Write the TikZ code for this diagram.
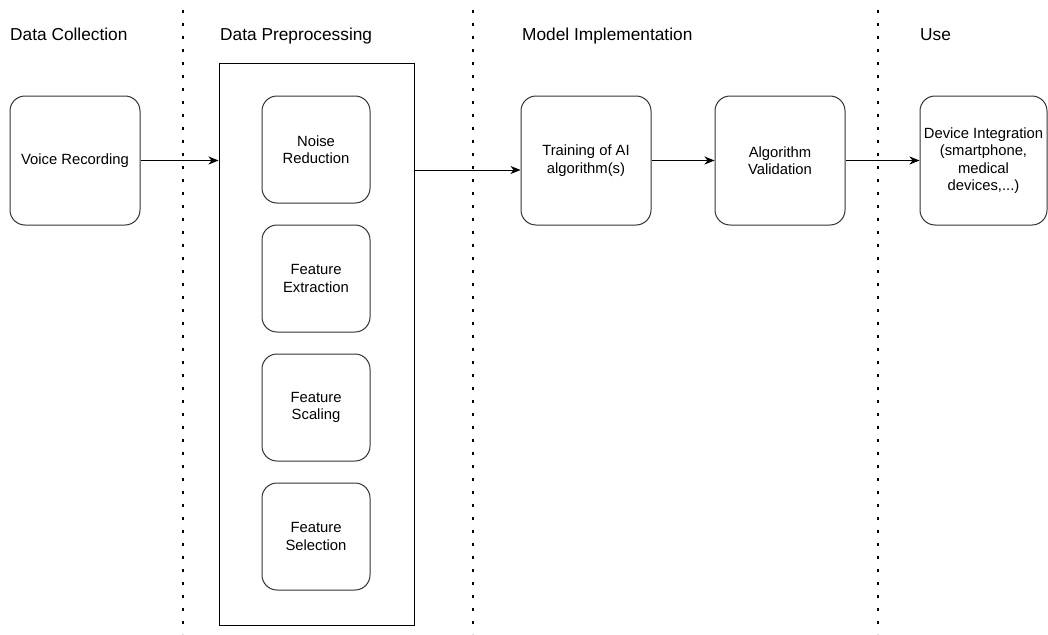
\documentclass[tikz,border=0pt]{standalone}
\usepackage{fontspec}
\setmainfont{Liberation Sans}
\usetikzlibrary{arrows.meta, positioning}

\newcommand{\boxfont}{\fontsize{14.8}{17.5}\selectfont}
\newcommand{\headfont}{\fontsize{17.3}{20}\selectfont}

\begin{document}
\begin{tikzpicture}[x=1pt, y=-1pt,
  box/.style={draw=black!80, line width=1pt, rounded corners=15pt, align=center, font=\boxfont, inner sep=0pt, minimum width=130pt, minimum height=129pt},
  smallbox/.style={box, minimum width=108pt, minimum height=107pt},
  head/.style={anchor=base west, font=\headfont, inner sep=0pt},
  sep/.style={line width=2.8pt, dash pattern=on 2.8pt off 10.2pt},
  flow/.style={-{Stealth[length=10pt,width=8pt,inset=3pt]}, line width=1pt}]
\useasboundingbox (0,0) rectangle (1048,634);
% column separators
\foreach \x in {183,473,878} {\draw[sep] (\x,10) -- (\x,634);}
% headers
\node[head] (hcol) at (10,41) {Data Collection};
\node[head] (hpre) at (220,41) {Data Preprocessing};
\node[head] (hmod) at (522,41) {Model Implementation};
\node[head] (huse) at (920,41) {Use};
% boxes
\node[box] (voice) at (75,160.5) {Voice Recording};
\node[draw, line width=1pt, minimum width=195pt, minimum height=562pt, inner sep=0pt] (pre) at (316.5,344) {};
\node[smallbox] (noise) at (316,149.5) {Noise\\Reduction};
\node[smallbox] (extr) at (316,278.5) {Feature\\Extraction};
\node[smallbox] (scal) at (316,407.5) {Feature\\Scaling};
\node[smallbox] (sel) at (316,536.5) {Feature\\Selection};
\node[box] (train) at (586,160.5) {Training of AI\\algorithm(s)};
\node[box] (valid) at (780,160.5) {Algorithm\\Validation};
\node[box, minimum width=127pt] (dev) at (983.5,160.5) {Device Integration\\(smartphone,\\medical\\devices,...)};
% arrows
\coordinate (out) at (414,170);
\draw[flow] (voice.east) -- (pre.west |- voice.east);
\draw[flow] (out) -- (train.west |- out);
\draw[flow] (train) -- (valid);
\draw[flow] (valid) -- (dev);
\end{tikzpicture}
\end{document}
